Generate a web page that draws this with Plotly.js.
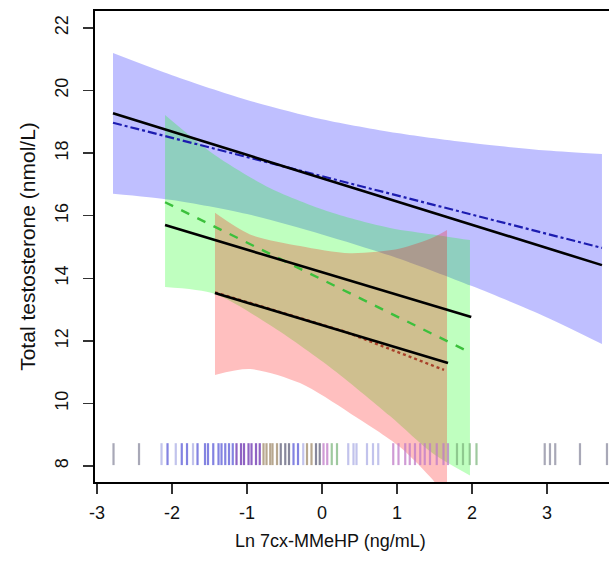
<!DOCTYPE html>
<html>
<head>
<meta charset="utf-8">
<script src="https://cdn.plot.ly/plotly-3.0.1.min.js"></script>
<style>html,body{margin:0;padding:0;background:#fff;}#chart{width:609px;height:565px;}</style>
</head>
<body>
<div id="chart"></div>
<script>
// ---- data ----
// Blue (overall) band and fits
const blueX     = [-2.787, -2.0, -1.0, 0.0, 1.0, 2.0, 3.0, 3.733];
const blueUpper = [21.20, 20.49, 19.70, 19.08, 18.64, 18.32, 18.08, 17.97];
const blueLower = [16.70, 16.50, 16.05, 15.40, 14.65, 13.75, 12.75, 11.90];
const blueLineX = [-2.787, 3.733];
const blueBlack = [19.27, 14.42];
const blueDashDot = [18.97, 14.97];

// Green band and fits
const greenX     = [-2.093, -1.43, -0.69, 0.107, 0.907, 1.48, 1.973];
const greenUpper = [19.22, 17.94, 16.88, 16.12, 15.61, 15.40, 15.22];
const greenLower = [13.72, 13.50, 12.50, 11.16, 9.60, 8.40, 7.70];
const greenLineX = [-2.093, 1.99];
const greenBlack = [15.70, 12.76];
const greenDash  = [16.43, 11.61];

// Red band and fits
const redX     = [-1.427, -0.96, -0.293, 0.373, 1.04, 1.48, 1.667];
const redUpper = [16.09, 15.40, 15.03, 14.80, 14.95, 15.30, 15.54];
const redLower = [10.91, 11.10, 10.65, 9.69, 8.61, 7.55, 6.95];
const redLineX = [-1.427, 1.68];
const redBlack = [13.53, 11.29];
const redDotX  = [-1.427, 0.3, 1.627];
const redDot   = [13.55, 12.30, 11.07];

// Rug of observed exposure values
const rugGrey     = [-2.78, -2.44, 2.97, 3.04, 3.11, 3.44, 3.80];
const rugLavender = [-2.14, -1.95, -1.72, -0.25, 0.35, 0.42, 0.46, 0.60, 0.68, 0.75];
const rugBlue     = [-2.06, -1.87, -1.80, -1.66, -1.56, -1.52, -1.45, -1.38, -1.34, -1.29, -1.24, -1.19, -0.38, -0.32];
const rugPurple   = [-1.14, -1.08, -1.04, -0.98, -0.94, -0.88, -0.83];
const rugOlive    = [-0.78, -0.74, -0.69, -0.66, -0.60, -0.20, -0.14];
const rugSlate    = [-0.55, -0.49, -0.44, -0.08, -0.03];
const rugPink     = [0.02, 0.07, 0.95, 1.02, 1.11, 1.17, 1.24, 1.31, 1.37, 1.44, 1.53, 1.62, 1.68];
const rugGreen    = [0.13, 0.20, 1.80, 1.88, 1.97, 2.06];
const rugLow = 8.03, rugHigh = 8.73;

const xTicks = [-3, -2, -1, 0, 1, 2, 3];
const yTicks = [8, 10, 12, 14, 16, 18, 20, 22];

// ---- helpers ----
function band(xs, up, lo, color) {
  return [
    {x: xs, y: lo, type: 'scatter', mode: 'lines',
     line: {width: 0, shape: 'spline', smoothing: 0.8}, hoverinfo: 'skip', showlegend: false},
    {x: xs, y: up, type: 'scatter', mode: 'lines', fill: 'tonexty', fillcolor: color,
     line: {width: 0, shape: 'spline', smoothing: 0.8}, hoverinfo: 'skip', showlegend: false}
  ];
}
function line(xs, ys, color, dash, width) {
  return {x: xs, y: ys, type: 'scatter', mode: 'lines',
    line: {color: color, dash: dash, width: width}, showlegend: false, hoverinfo: 'skip'};
}
function rug(vals, color) {
  const x = [], y = [];
  vals.forEach(v => { x.push(v, v, null); y.push(rugLow, rugHigh, null); });
  return {x: x, y: y, type: 'scatter', mode: 'lines', line: {color: color, width: 2.2},
    opacity: 0.75, showlegend: false, hoverinfo: 'skip'};
}

const traces = [].concat(
  band(blueX, blueUpper, blueLower, 'rgba(0,0,255,0.25)'),
  band(greenX, greenUpper, greenLower, 'rgba(0,255,0,0.25)'),
  band(redX, redUpper, redLower, 'rgba(255,0,0,0.25)'),
  [
    rug(rugGrey, '#8c8ca0'),
    rug(rugLavender, '#aeb0e6'),
    rug(rugBlue, '#5a5ad8'),
    rug(rugPurple, '#6a2fb0'),
    rug(rugOlive, '#a08a6a'),
    rug(rugSlate, '#60607a'),
    rug(rugPink, '#c07ac8'),
    rug(rugGreen, '#80b880'),
    line(blueLineX, blueDashDot, '#1c1cb0', 'dashdot', 2.2),
    line(blueLineX, blueBlack, '#000000', 'solid', 2.6),
    line(greenLineX, greenDash, '#3cc03c', 'dash', 2.4),
    line(greenLineX, greenBlack, '#000000', 'solid', 2.6),
    line(redDotX, redDot, '#a8402a', 'dot', 2.4),
    line(redLineX, redBlack, '#000000', 'solid', 2.6)
  ]
);

const font = {family: 'Liberation Sans, Arial, sans-serif', color: '#111'};
const layout = {
  width: 609, height: 565,
  margin: {l: 95, r: 0, t: 11, b: 83, pad: 0},
  paper_bgcolor: '#fff', plot_bgcolor: '#fff',
  showlegend: false,
  xaxis: {
    range: [-3.027, 3.827], tickmode: 'array', tickvals: xTicks, ticktext: xTicks.map(String),
    showgrid: false, zeroline: false, showline: true, mirror: true, linecolor: '#000', linewidth: 2,
    ticks: 'outside', ticklen: 10, tickwidth: 1.5, tickcolor: '#333',
    tickfont: Object.assign({size: 18}, font), ticklabelstandoff: 3
  },
  yaxis: {
    range: [7.49, 22.54], tickmode: 'array', tickvals: yTicks, ticktext: yTicks.map(String),
    showgrid: false, zeroline: false, showline: true, mirror: false, linecolor: '#000', linewidth: 2,
    ticks: 'outside', ticklen: 10, tickwidth: 1.5, tickcolor: '#333', tickangle: -90,
    tickfont: Object.assign({size: 18}, font), ticklabelstandoff: 8,
    title: {text: 'Total testosterone (nmol/L)', font: Object.assign({size: 21}, font), standoff: 10}
  },
  annotations: [{
    text: 'Ln 7cx-MMeHP (ng/mL)', xref: 'paper', yref: 'paper', x: 0.459, y: -0.125,
    xanchor: 'center', yanchor: 'middle', showarrow: false, font: Object.assign({size: 18}, font)
  }]
};

Plotly.newPlot('chart', traces, layout, {staticPlot: true, displayModeBar: false});
</script>
</body>
</html>
